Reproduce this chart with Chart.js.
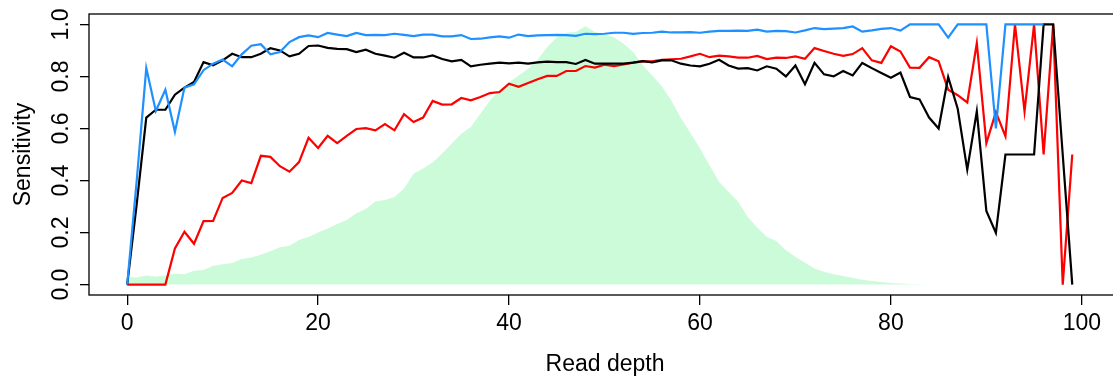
<!DOCTYPE html>
<html>
<head>
<meta charset="utf-8">
<script src="https://cdn.jsdelivr.net/npm/chart.js@4/dist/chart.umd.min.js"></script>
<style>
  html, body { margin: 0; padding: 0; background: #fff; overflow: hidden; }
  #wrap { width: 1113px; height: 376px; overflow: hidden; }
  canvas { display: block; }
</style>
</head>
<body>
<div id="wrap"><canvas id="chart" width="1121" height="376"></canvas></div>
<script>
// Sensitivity by read depth (index = depth)
const blueSens = [0, 0.40, 0.832, 0.667, 0.749, 0.587, 0.757, 0.770, 0.824, 0.849,
  0.865, 0.839, 0.885, 0.918, 0.924, 0.885, 0.894, 0.932, 0.951, 0.958,
  0.951, 0.967, 0.961, 0.955, 0.967, 0.959, 0.960, 0.959, 0.964, 0.960,
  0.955, 0.961, 0.961, 0.954, 0.954, 0.959, 0.944, 0.945, 0.950, 0.954,
  0.949, 0.961, 0.955, 0.958, 0.959, 0.960, 0.959, 0.956, 0.964, 0.963,
  0.964, 0.968, 0.968, 0.964, 0.967, 0.968, 0.972, 0.969, 0.969, 0.970,
  0.968, 0.972, 0.975, 0.975, 0.976, 0.975, 0.980, 0.972, 0.975, 0.974,
  0.969, 0.977, 0.986, 0.982, 0.984, 0.986, 0.992, 0.972, 0.977, 0.983,
  0.986, 0.976, 1, 1, 1, 1, 0.949, 1, 1, 1,
  1, 0.600, 1, 1, 1, 1, 1];

const blackSens = [0, 0.31, 0.642, 0.672, 0.672, 0.730, 0.757, 0.779, 0.855, 0.843,
  0.862, 0.887, 0.874, 0.874, 0.887, 0.909, 0.900, 0.877, 0.887, 0.917,
  0.919, 0.910, 0.906, 0.905, 0.894, 0.903, 0.887, 0.880, 0.872, 0.891,
  0.873, 0.873, 0.881, 0.867, 0.858, 0.864, 0.839, 0.845, 0.849, 0.853,
  0.850, 0.853, 0.849, 0.854, 0.857, 0.855, 0.855, 0.848, 0.863, 0.849,
  0.849, 0.849, 0.849, 0.853, 0.859, 0.854, 0.862, 0.862, 0.849, 0.842,
  0.839, 0.849, 0.864, 0.842, 0.830, 0.832, 0.823, 0.839, 0.830, 0.800,
  0.842, 0.770, 0.852, 0.808, 0.800, 0.821, 0.804, 0.852, 0.832, 0.813,
  0.795, 0.815, 0.721, 0.712, 0.642, 0.600, 0.798, 0.676, 0.442, 0.666,
  0.283, 0.199, 0.5, 0.5, 0.5, 0.5, 1, 1, 0.5, 0];

const redSens = [0, 0, 0, 0, 0, 0.139, 0.203, 0.157, 0.244, 0.245,
  0.333, 0.352, 0.400, 0.390, 0.495, 0.491, 0.455, 0.434, 0.471, 0.564,
  0.525, 0.572, 0.544, 0.572, 0.598, 0.601, 0.593, 0.617, 0.593, 0.655,
  0.625, 0.642, 0.706, 0.692, 0.693, 0.717, 0.708, 0.721, 0.736, 0.740,
  0.772, 0.760, 0.775, 0.789, 0.802, 0.802, 0.821, 0.821, 0.840, 0.834,
  0.845, 0.840, 0.846, 0.853, 0.858, 0.858, 0.864, 0.866, 0.868, 0.877,
  0.887, 0.874, 0.880, 0.877, 0.872, 0.872, 0.879, 0.867, 0.872, 0.871,
  0.877, 0.868, 0.909, 0.898, 0.887, 0.879, 0.886, 0.909, 0.862, 0.852,
  0.916, 0.896, 0.834, 0.833, 0.874, 0.858, 0.749, 0.728, 0.700, 0.928,
  0.544, 0.663, 0.570, 1, 0.666, 1, 0.5, 1, 0, 0.5];

// scaled read-depth distribution (green area)
const depthDist = [0.030, 0.027, 0.035, 0.031, 0.035, 0.042, 0.040, 0.053, 0.056, 0.072,
  0.078, 0.083, 0.098, 0.104, 0.115, 0.128, 0.144, 0.149, 0.171, 0.183,
  0.200, 0.216, 0.233, 0.248, 0.274, 0.291, 0.319, 0.325, 0.337, 0.369,
  0.426, 0.446, 0.469, 0.504, 0.542, 0.580, 0.606, 0.657, 0.708, 0.749,
  0.778, 0.804, 0.830, 0.864, 0.913, 0.951, 0.968, 0.971, 0.993, 0.971,
  0.962, 0.951, 0.926, 0.894, 0.843, 0.804, 0.762, 0.708, 0.640, 0.583,
  0.524, 0.459, 0.395, 0.356, 0.318, 0.260, 0.219, 0.184, 0.168, 0.132,
  0.107, 0.084, 0.062, 0.049, 0.040, 0.033, 0.025, 0.019, 0.014, 0.010,
  0.006, 0.004, 0.002, 0.001, 0];

const xTicks = [0, 20, 40, 60, 80, 100];
const yTicks = [0, 0.2, 0.4, 0.6, 0.8, 1.0];
const yTickLabels = ['0.0', '0.2', '0.4', '0.6', '0.8', '1.0'];
const xTitle = 'Read depth';
const yTitle = 'Sensitivity';

const FONT = '"Liberation Sans", Arial, Helvetica, sans-serif';

const toPoints = arr => arr.map((v, i) => ({ x: i, y: v }));

// frame box + rotated y labels + axis titles, R style
const rStyle = {
  id: 'rStyle',
  afterDraw(chart) {
    const ctx = chart.ctx;
    const a = chart.chartArea;
    const ys = chart.scales.y;
    ctx.save();
    ctx.strokeStyle = '#000';
    ctx.lineWidth = 1.3;
    ctx.strokeRect(a.left, a.top, a.right - a.left, a.bottom - a.top);

    ctx.fillStyle = '#000';
    ctx.font = '23px ' + FONT;
    ctx.textAlign = 'center';
    ctx.textBaseline = 'alphabetic';
    yTicks.forEach((v, i) => {
      ctx.save();
      ctx.translate(68, ys.getPixelForValue(v));
      ctx.rotate(-Math.PI / 2);
      ctx.fillText(yTickLabels[i], 0, 0);
      ctx.restore();
    });

    ctx.save();
    ctx.translate(30, (a.top + a.bottom) / 2);
    ctx.rotate(-Math.PI / 2);
    ctx.fillText(yTitle, 0, 0);
    ctx.restore();

    ctx.fillText(xTitle, 605, 371);
    ctx.restore();
  }
};

new Chart(document.getElementById('chart'), {
  type: 'line',
  data: {
    datasets: [
      { data: toPoints(blueSens), borderColor: '#1E90FF', borderWidth: 2.2, fill: false },
      { data: toPoints(blackSens), borderColor: '#000000', borderWidth: 2.2, fill: false },
      { data: toPoints(redSens), borderColor: '#FF0000', borderWidth: 2.2, fill: false },
      { data: toPoints(depthDist), borderWidth: 0, borderColor: 'rgba(0,0,0,0)',
        backgroundColor: '#ccfbd9', fill: 'origin' }
    ]
  },
  options: {
    responsive: false,
    animation: false,
    layout: { padding: { top: 14, right: 1, left: 0, bottom: 0 } },
    plugins: { legend: { display: false }, tooltip: { enabled: false } },
    elements: { point: { radius: 0 }, line: { tension: 0 } },
    scales: {
      x: {
        type: 'linear',
        min: -4,
        max: 104,
        afterBuildTicks: s => { s.ticks = xTicks.map(v => ({ value: v })); },
        afterFit: s => { s.height = 81; },
        border: { display: false },
        grid: { drawOnChartArea: false, drawTicks: true, tickLength: 10, color: '#000', lineWidth: 1.3 },
        ticks: { font: { family: FONT, size: 23 }, color: '#000', padding: 5, maxRotation: 0, autoSkip: false }
      },
      y: {
        min: -0.04,
        max: 1.04,
        afterBuildTicks: s => { s.ticks = yTicks.map(v => ({ value: v })); },
        afterFit: s => { s.width = 89; },
        border: { display: false },
        grid: { drawOnChartArea: false, drawTicks: true, tickLength: 9, color: '#000', lineWidth: 1.3 },
        ticks: { callback: () => '', padding: 0 }
      }
    }
  },
  plugins: [rStyle]
});
</script>
</body>
</html>
